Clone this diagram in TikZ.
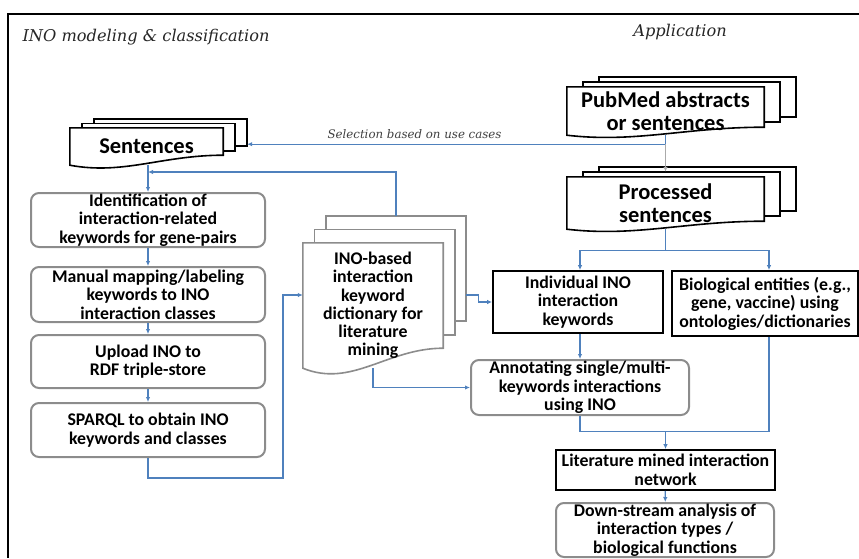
\documentclass[tikz,border=0pt]{standalone}
\usepackage{fontspec}
\setmainfont{Carlito}
\newfontfamily\captionfont{DejaVu Serif}
\usetikzlibrary{calc,arrows.meta,backgrounds}
\definecolor{lineBlue}{RGB}{79,129,189}
\definecolor{boxGray}{RGB}{140,140,140}
\definecolor{arrowGray}{RGB}{170,170,170}

\begin{document}
\begin{tikzpicture}
[x=1pt,y=-1pt,
  roundBox/.style={draw=boxGray,line width=2pt,rounded corners=8pt,align=center,
    inner sep=0pt,font=\fontsize{17.8}{18.5}\selectfont\bfseries},
  plainBox/.style={draw=black,line width=1.8pt,align=center,
    inner sep=0pt,font=\fontsize{17.8}{18.5}\selectfont\bfseries},
  docNode/.style={inner sep=0pt,align=center},
  bigText/.style={font=\fontsize{22.5}{23}\selectfont\bfseries},
  smallText/.style={font=\fontsize{17.8}{18.2}\selectfont\bfseries},
  titleText/.style={font=\captionfont\itshape\fontsize{16.2}{18}\selectfont,text=black!85},
  lineDecorate/.style={draw=lineBlue,line width=1.2pt},
  arrowDecorate/.style={lineDecorate,-{Latex[length=5pt,width=4.5pt]}},
  grayArrow/.style={draw=arrowGray,line width=1.6pt,-{Latex[length=5pt,width=4.5pt]}}]
\useasboundingbox (0,0) rectangle (859,558);
%% frame and titles
\draw[line width=2pt] (859,14) -- (8,14) -- (8,558);
\node[titleText,anchor=west] (leftTitle) at (19,37) {INO modeling \& classification};
\node[titleText] (rightTitle) at (680,32) {Application};
%% document stacks (front sheet)
\node[docNode,bigText,minimum width=153pt,minimum height=37pt] (sent) at (146.5,146.5) {Sentences};
\node[docNode,bigText,minimum width=197pt,minimum height=48pt] (pub) at (665.5,111) {PubMed abstracts\\or sentences};
\node[docNode,bigText,minimum width=197pt,minimum height=52pt] (proc) at (665.5,203) {Processed\\sentences};
\node[docNode,smallText,minimum width=140pt,minimum height=125pt] (dict) at (373,305.5)
  {INO-based\\interaction\\keyword\\dictionary for\\literature\\mining};
%% left column
\node[roundBox,minimum width=234pt,minimum height=54pt] (ident) at (148,220)
  {Identification of\\interaction-related\\keywords for gene-pairs};
\node[roundBox,minimum width=234pt,minimum height=55pt] (manual) at (148,294.5)
  {Manual mapping/labeling\\keywords to INO\\interaction classes};
\node[roundBox,minimum width=234pt,minimum height=53pt] (upload) at (148,361.5)
  {Upload INO to\\RDF triple-store};
\node[roundBox,minimum width=234pt,minimum height=54pt] (sparql) at (148,430)
  {SPARQL to obtain INO\\keywords and classes};
%% right column
\node[plainBox,minimum width=170pt,minimum height=62pt] (indiv) at (578,302)
  {Individual INO\\interaction\\keywords};
\node[plainBox,minimum width=186pt,minimum height=65pt] (bio) at (765,303.5)
  {Biological entities (e.g.,\\gene, vaccine) using\\ontologies/dictionaries};
\node[roundBox,minimum width=218pt,minimum height=55pt] (annot) at (580,387.5)
  {Annotating single/multi-\\keywords interactions\\using INO};
\node[plainBox,minimum width=219pt,minimum height=40pt] (lit) at (665.5,470)
  {Literature mined interaction\\network};
\node[roundBox,minimum width=218pt,minimum height=54pt] (down) at (665,530)
  {Down-stream analysis of\\interaction types /\\biological functions};
%% sheets behind the text
\begin{scope}[on background layer]
\foreach \n/\dx/\dy/\a/\col in {sent/12/4.5/10/black, pub/16/5/8/black,
  proc/16/5/8/black, dict/11.5/13.5/20/boxGray}
{
  \draw[draw=\col,line width=1.6pt,fill=white]
    ($(\n.north west)+(2*\dx,-2*\dy)$) rectangle ($(\n.south east)+(2*\dx,-\a-2*\dy)$);
  \draw[draw=\col,line width=1.6pt,fill=white]
    ($(\n.north west)+(\dx,-\dy)$) rectangle ($(\n.south east)+(\dx,-\a-\dy)$);
  \draw[draw=\col,line width=1.6pt,fill=white]
    (\n.south west) -- (\n.north west) -- (\n.north east) -- ($(\n.south east)+(0,-\a)$)
    .. controls ($(\n.south west)!0.6!(\n.south east)+(0,-\a)$)
    and ($(\n.south west)!0.35!(\n.south east)+(0,\a)$) .. (\n.south west) -- cycle;
}
\end{scope}
%% connectors
\coordinate (selJoin) at ($(pub.south)+(0,9)$);
\coordinate (sentIn) at ($(sent.east)+(24,0)$);
\draw[arrowDecorate] (pub.south) -- (selJoin) -- (selJoin -| sentIn)
  node[pos=0.6,above=2pt,font=\captionfont\itshape\fontsize{11.8}{13}\selectfont,text=black!75]
  (selText) {Selection based on use cases};
\draw[grayArrow] (selJoin) -- ($(proc.north)+(0,-5)$);
\draw[arrowDecorate] (ident.north |- sent.south) -- (ident.north);
\coordinate (loopIn) at ($(ident.north)+(0,-20)$);
\draw[arrowDecorate] ($(dict.north)+(23,-27)$) |- (loopIn);
\foreach \startnode/\endnode in {ident/manual, manual/upload, upload/sparql, lit/down}
  \draw[arrowDecorate] (\startnode) -- (\endnode);
\coordinate (sparqlTurn) at ($(sparql.south)+(135,20)$);
\draw[arrowDecorate] (sparql.south) |- (sparqlTurn) |- ($(dict.west)+(0,-10.5)$);
\draw[arrowDecorate] ($(dict.east)+(23,-10.5)$) -- ++(12,0) |- (indiv.west);
\draw[arrowDecorate] (dict.south) |- (annot.west);
\coordinate (procSplit) at ($(proc.south)+(0,21)$);
\draw[lineDecorate] (proc.south) -- (procSplit);
\draw[arrowDecorate] (procSplit) -| ($(indiv.north)+(2,0)$);
\draw[arrowDecorate] (procSplit) -| ($(bio.north)+(4,0)$);
\draw[arrowDecorate] (annot.north |- indiv.south) -- (annot.north);
\coordinate (litJoin) at ($(lit.north)+(0,-18)$);
\draw[lineDecorate] (annot.south) |- (litJoin);
\draw[lineDecorate] ($(bio.south)+(4,0)$) |- (litJoin);
\draw[arrowDecorate] (litJoin) -- (lit.north);
\end{tikzpicture}
\end{document}
